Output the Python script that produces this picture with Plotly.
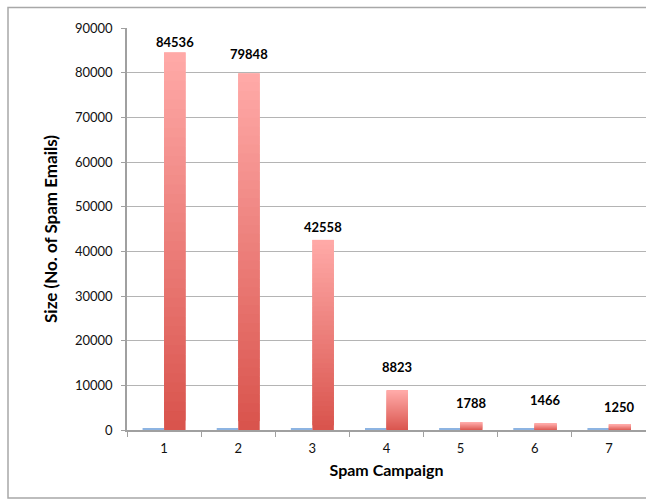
import plotly.graph_objects as go

# ---- data ----
campaigns = ["1", "2", "3", "4", "5", "6", "7"]
series_blue = [400, 400, 400, 400, 400, 400, 400]
spam_sizes = [84536, 79848, 42558, 8823, 1788, 1466, 1250]
y_ticks = [0, 10000, 20000, 30000, 40000, 50000, 60000, 70000, 80000, 90000]

# ---- style ----
BAR_W = 0.29
N_SEG = 40
bottom_rgb = (217, 83, 76)
top_rgb = (255, 170, 168)
label_gap = [10, 19, 13, 24, 19, 23, 17]  # px above bar top
FONT = "Lato"

fig = go.Figure()

fig.add_trace(go.Bar(
    x=campaigns, y=series_blue, width=BAR_W, offset=-BAR_W,
    marker=dict(color="#8DB4E2", line=dict(width=0)), showlegend=False,
))

# red bars drawn as a vertical gradient: overlapping slices, each covered by the next
for k in range(N_SEG):
    t = (k + 0.5) / N_SEG
    c = tuple(round(bottom_rgb[i] + (top_rgb[i] - bottom_rgb[i]) * t) for i in range(3))
    h = 1.0 if k == N_SEG - 1 else 2.0
    fig.add_trace(go.Bar(
        x=campaigns,
        y=[v * h / N_SEG for v in spam_sizes],
        base=[v * k / N_SEG for v in spam_sizes],
        width=BAR_W, offset=0,
        marker=dict(color="rgb(%d,%d,%d)" % c, line=dict(width=0)),
        showlegend=False, hoverinfo="skip",
    ))

for i, (cat, v) in enumerate(zip(campaigns, spam_sizes)):
    fig.add_annotation(
        x=i + BAR_W / 2, y=v, xref="x", yref="y",
        text="<b>%d</b>" % v, showarrow=False,
        yanchor="middle", yshift=label_gap[i],
        font=dict(family=FONT, size=13, color="#000000"),
    )

# outer frame
fig.add_shape(type="rect", xref="paper", yref="paper",
              x0=(8 - 127) / 519, x1=1.3, y0=(430 - 498) / 401.5, y1=(430 - 8) / 401.5,
              line=dict(color="#A8A8A8", width=1.5), fillcolor="rgba(0,0,0,0)", layer="below")

fig.update_layout(
    width=646, height=500,
    margin=dict(l=127, r=0, t=28, b=70),
    barmode="overlay",
    plot_bgcolor="white", paper_bgcolor="white",
    font=dict(family=FONT, size=13, color="#111111"),
    showlegend=False,
)

fig.update_xaxes(
    type="category", range=[-0.5, 6.5],
    showline=True, linecolor="#A0A0A0", linewidth=1.5,
    ticks="outside", tickson="boundaries", ticklen=5, tickcolor="#A0A0A0",
    showgrid=False,
    title=dict(text="<b>Spam Campaign</b>", font=dict(family=FONT, size=16, color="#000000"), standoff=9),
    tickfont=dict(family=FONT, size=13, color="#111111"),
    ticklabelstandoff=6,
)

fig.update_yaxes(
    range=[0, 90000], tickvals=y_ticks, ticktext=[str(v) for v in y_ticks],
    showline=True, linecolor="#A0A0A0", linewidth=1.5,
    ticks="outside", ticklen=4, tickcolor="#A0A0A0",
    showgrid=True, gridcolor="#B4B4B4", gridwidth=1,
    zeroline=False,
    title=dict(text="<b>Size (No. of Spam Emails)</b>", font=dict(family=FONT, size=17, color="#000000"), standoff=13),
    tickfont=dict(family=FONT, size=13, color="#111111"),
    ticklabelstandoff=6,
)

fig.write_html("out.html")
